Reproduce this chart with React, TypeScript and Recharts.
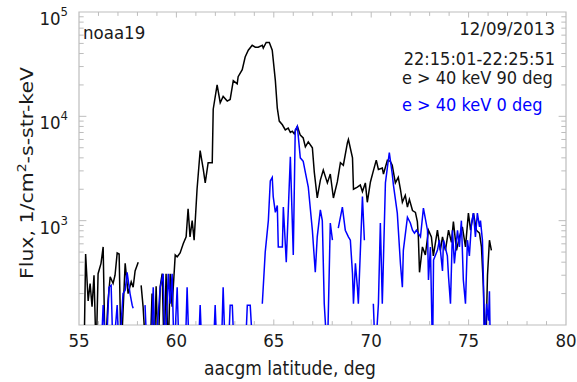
import React from 'react';
import { LineChart, Line, XAxis, YAxis, Customized, ReferenceArea, ReferenceLine } from 'recharts';

// latitude (deg) / flux pairs; 50 = below the axis, null = gap
const latBlack = [
  55.26, 55.34, 55.47, 55.57, 55.67, 55.77, 55.88, 55.98, 56.13, 56.24, 56.34, 56.49, 56.6, 56.75, 56.85, 56.96,
  57.06, 57.16, 57.37, 57.52, 57.68, 57.78, 57.88, 58.04, 58.11, 58.19, 58.29, 58.44, 58.65, 58.75, 58.86, 58.96,
  59.06, 59.17, 59.27, 59.37, 59.47, 59.58, 59.68, 59.78, 59.94, 60.04, 60.19, 60.35, 60.5, 60.6, 60.7, 60.81,
  60.91, 61.06, 61.22, 61.38, 61.48, 61.63, 61.84, 61.89, 62.09, 62.25, 62.4, 62.61, 62.76, 62.92, 63.12, 63.17,
  63.38, 63.53, 63.69, 63.89, 64.05, 64.2, 64.41, 64.46, 64.61, 64.77, 64.92, 65.08, 65.18, 65.28, 65.44, 65.59,
  65.74, 65.85, 65.95, 66.05, 66.21, 66.36, 66.51, 66.62, 66.77, 66.98, 67.08, 67.23, 67.39, 67.54, 67.75, 67.9,
  68.06, 68.26, 68.42, 68.57, 68.78, 68.83, 69.04, 69.09, 69.29, 69.44, 69.55, 69.7, 69.8, 69.96, 70.11, 70.26,
  70.37, 70.57, 70.63, 70.83, 70.98, 71.08, 71.24, 71.39, 71.5, 71.6, 71.75, 71.86, 71.96, 72.12, 72.27, 72.37,
  72.42, 72.48, 72.63, 72.78, 72.94, 73.09, 73.19, 73.4, 73.55, 73.66, 73.81, 73.97, 74.12, 74.22, 74.38, 74.53,
  74.68, 74.84, 74.99, 75.1, 75.25, 75.4, 75.56, 75.66, 75.76, 75.87, 75.97, 76.07, 76.17,
];
const fluxBlack = [
  50, 480, 170, 250, 150, 300, 50, 310, 390, 560, 50, 170, 290, 250, 300, 490,
  480, 50, 390, 200, 260, 230, 330, 400, null, 240, 150, 50, 50, 200, 50, 235,
  50, 235, 310, 50, 310, 50, 310, 150, 470, 450, 490, 600, 700, 1300, 700, 1000,
  650, 2000, 4700, 3100, 2300, 3600, 3600, 11700, 20000, 13500, 15500, 14000, 14500, 22000, 20500, 24000,
  28000, 37000, 43000, 48000, 46000, 46000, 48000, 45000, 51000, 51000, 43000, 22000, 12000, 9000, 8300, 7400,
  7700, 7000, 7200, 6800, 8000, 6600, 6200, 5100, 5700, 5000, 2900, 1650, 2450, 3050, 2300, 2800,
  1650, 2350, 3600, 3400, 5600, 6000, 4000, 2000, 2100, 2200, 1900, 2300, 1500, 2350, 3000, 3800,
  3100, 3200, 2800, 3800, 3700, 3400, 2300, 2600, 2000, 1500, 1750, 1350, 1600, 1250, 1200, 980,
  700, 320, 560, 470, 810, 700, 460, 810, 520, 700, 520, 810, 620, 980, 520, 700,
  870, 560, 1180, 810, 1180, 810, 760, 560, 230, 50, 300, 650, 520,
];

const latBlue = [
  56.13, 56.24, 56.39, 56.54, 56.65, 56.75, 56.96, 57.06, 57.26, 57.37, 57.47, 57.62, 57.73, 57.78, 57.85, 58.39,
  58.5, 58.6, 58.7, 58.81, 58.91, 59.17, 59.32, 59.42, 59.58, 59.68, 59.78, 59.88, 60.04, 60.14, 60.3, 60.45,
  60.55, 60.66, 60.8, 61.12, 61.22, 61.32, 61.5, 61.89, 61.99, 62.09, 62.2, 62.3, 62.4, 62.51, 62.6, 62.66,
  62.76, 62.87, 62.97, 63.2, 63.53, 63.64, 63.79, 63.94, 64.2, 64.41, 64.56, 64.72, 64.82, 64.92, 64.97, 65.08,
  65.18, 65.23, 65.44, 65.49, 65.64, 65.85, 66.0, 66.1, 66.21, 66.36, 66.51, 66.62, 66.77, 66.98, 67.13, 67.23,
  67.39, 67.49, 67.59, 67.75, 67.9, 68.01, 68.15, 68.31, 68.52, 68.67, 68.83, 68.93, 69.04, 69.09, 69.19, 69.29,
  69.34, 69.55, 69.65, 69.8, 70.11, 70.21, 70.37, 70.47, 70.57, 70.73, 70.93, 71.08, 71.14, 71.34, 71.5, 71.6,
  71.65, 71.86, 72.01, 72.12, 72.22, 72.32, 72.53, 72.68, 72.89, 72.94, 73.04, 73.15, 73.2, 73.4, 73.5, 73.66,
  73.71, 73.91, 73.97, 74.07, 74.17, 74.27, 74.43, 74.53, 74.63, 74.73, 74.84, 74.94, 75.04, 75.15, 75.25, 75.35,
  75.45, 75.56, 75.61, 75.71, 75.76, 75.81, 75.92, 76.02, 76.07, 76.12,
];
const fluxBlue = [
  50, 155, 50, 230, 240, 50, 155, 50, 200, 215, 320, 200, 155, 145, null, 155,
  50, null, 50, 230, 50, 230, 310, 50, 310, 160, 310, 50, 230, 50, null, 50,
  230, 50, null, 50, 155, 50, null, 50, 155, 50, null, 50, 230, 50, null, 50,
  155, 155, 50, null, 50, 155, 155, 50, null, 160, 500, 1000, 2400, 2600, 1700, 1200,
  1400, 560, 560, 1350, 400, 4100, 470, 7400, 8000, 4000, 3700, 2900, 2100, 810, 320, 700,
  1270, 1000, 160, 50, 950, 650, null, 850, 1350, 810, 700, 650, 310, 160, 390, 230,
  160, 1700, 650, null, 160, 50, 160, 950, 160, 2300, 4500, 2800, 2200, 1180, 390, 230,
  520, 1080, 950, 810, 760, 810, 700, 1320, 810, 270, 560, 50, 420, 520, 650, 330,
  650, 460, 290, 160, 810, 390, 810, 560, 1000, 270, 160, 650, 460, 950, 1180, 700,
  1180, 870, 1000, 650, 270, 50, 160, 110, 210, 50,
];

const xTicks = [55, 56, 57, 58, 59, 60, 61, 62, 63, 64, 65, 66, 67, 68, 69, 70, 71, 72, 73, 74, 75, 76, 77, 78, 79, 80];
const yTicks = [
  100, 200, 300, 400, 500, 600, 700, 800, 900,
  1000, 2000, 3000, 4000, 5000, 6000, 7000, 8000, 9000,
  10000, 20000, 30000, 40000, 50000, 60000, 70000, 80000, 90000, 100000,
];

const blackData = latBlack.map((lat, i) => ({ lat, flux: fluxBlack[i] }));
const blueData = latBlue.map((lat, i) => ({ lat, flux: fluxBlue[i] }));

const X0 = 55, X1 = 80, Y0 = 100, Y1 = 100000;
const FONT = '"DejaVu Sans", sans-serif';
const SX = 0.9;
const INK = '#1a1a1a';
const FRAME = '#bdbdbd';

const isDecade = (v: number) => Math.abs(Math.log10(v) - Math.round(Math.log10(v))) < 1e-6;

const BottomTick = ({ x, y, payload }: any) =>
  payload.value % 5 === 0 ? (
    <text transform={`translate(${x},${y + 22}) scale(${SX},1)`} textAnchor="middle"
      fontSize={18.5} fontFamily={FONT} fill={INK}>{payload.value}</text>
  ) : <g />;

const LeftTick = ({ x, y, payload }: any) =>
  isDecade(payload.value) && payload.value > Y0 ? (
    <text transform={`translate(${x - 11},${y + 13}) scale(${SX},1)`} textAnchor="end"
      fontSize={18.5} fontFamily={FONT} fill={INK}>
      10<tspan dy={-9} fontSize={13}>{Math.round(Math.log10(payload.value))}</tspan>
    </text>
  ) : <g />;

// inward tick marks, built from the tick lists (lengths in data units: ~5 px)
const xTickMarks = xTicks.slice(1, -1).flatMap((v) => {
  const k = v % 5 === 0 ? 1.13 : 1.09;
  return [
    [{ x: v, y: Y0 }, { x: v, y: Y0 * k }],
    [{ x: v, y: Y1 }, { x: v, y: Y1 / k }],
  ];
});
const yTickMarks = yTicks.slice(1, -1).flatMap((v) => {
  const d = isDecade(v) ? 0.38 : 0.24;
  return [
    [{ x: X0, y: v }, { x: X0 + d, y: v }],
    [{ x: X1, y: v }, { x: X1 - d, y: v }],
  ];
});

const Notes = () => (
  <g fontFamily={FONT} fill={INK}>
    <text transform={`translate(83,39) scale(${SX},1)`} fontSize={18.5}>noaa19</text>
    <text transform={`translate(555,35) scale(${SX},1)`} fontSize={18.5} textAnchor="end">12/09/2013</text>
    <text transform={`translate(555,65) scale(${SX},1)`} fontSize={18} textAnchor="end">22:15:01-22:25:51</text>
    <text transform={`translate(402,84) scale(${SX},1)`} fontSize={18}>e &gt; 40 keV 90 deg</text>
    <text transform={`translate(402,111) scale(${SX},1)`} fontSize={18} fill="#0000ff">e &gt; 40 keV 0 deg</text>
    <text transform={`translate(290,375) scale(${SX},1)`} fontSize={19} textAnchor="middle">aacgm latitude, deg</text>
    <text transform={`translate(33,173) scale(${SX},1) rotate(-90)`} fontSize={20.5} textAnchor="middle">
      Flux, 1/cm<tspan dy={-8} fontSize={14}>2</tspan><tspan dy={8}>-s-str-keV</tspan>
    </text>
  </g>
);

export default function App() {
  return (
    <div style={{ position: 'absolute', left: 0, top: 0, width: 577, height: 382, background: '#fff' }}>
      <LineChart width={577} height={382} margin={{ top: 12, right: 11, bottom: 0, left: 0 }}>
        <XAxis dataKey="lat" type="number" domain={[X0, X1]} ticks={xTicks} interval={0}
          height={57} tickSize={0} tickMargin={0} tickLine={false} axisLine={false} tick={<BottomTick />} />
        <YAxis scale="log" type="number" domain={[Y0, Y1]} allowDataOverflow ticks={yTicks} interval={0}
          width={79} tickSize={0} tickMargin={0} tickLine={false} axisLine={false} tick={<LeftTick />} />
        <ReferenceArea x1={X0} x2={X1} y1={Y0} y2={Y1} fill="none" fillOpacity={0} stroke={FRAME}
          strokeWidth={1.2} ifOverflow="visible" />
        {xTickMarks.map((seg, i) => (
          <ReferenceLine key={`xt${i}`} segment={seg} stroke={FRAME} ifOverflow="visible" />
        ))}
        {yTickMarks.map((seg, i) => (
          <ReferenceLine key={`yt${i}`} segment={seg} stroke={FRAME} ifOverflow="visible" />
        ))}
        <Line data={blackData} dataKey="flux" stroke="#000000" strokeWidth={1.5} dot={false}
          activeDot={false} isAnimationActive={false} />
        <Line data={blueData} dataKey="flux" stroke="#0000ff" strokeWidth={1.5} dot={false}
          activeDot={false} isAnimationActive={false} />
        <Customized component={Notes} />
      </LineChart>
    </div>
  );
}
